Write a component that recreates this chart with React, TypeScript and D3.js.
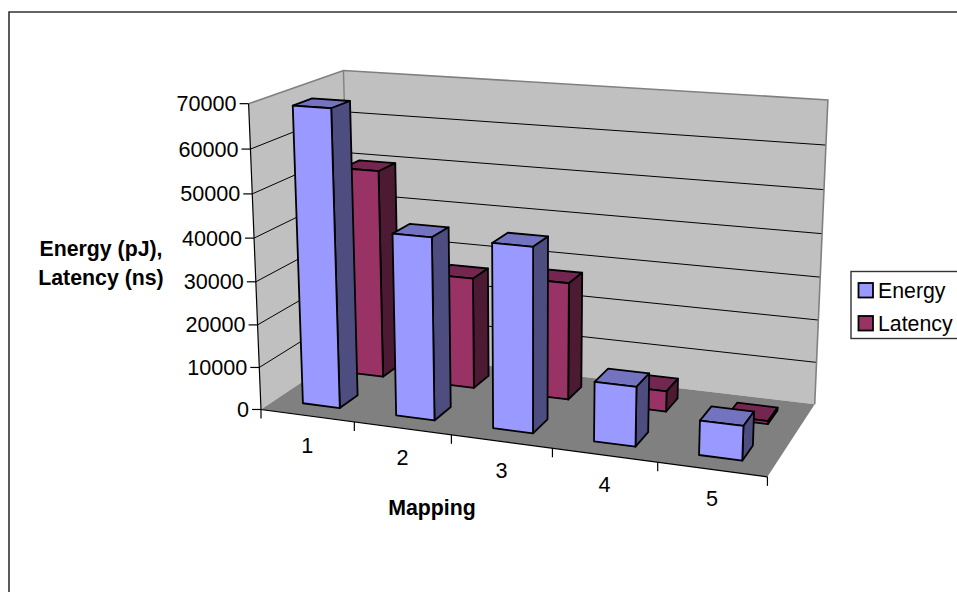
import * as d3 from "d3";

// Chart data
const categories = ["1", "2", "3", "4", "5"];
const seriesNames = ["Energy", "Latency"];
const energyValues = [68800, 42000, 42000, 13500, 7700];
const latencyValues = [50000, 26500, 27700, 4800, 700];
const valueTicks = [0, 10000, 20000, 30000, 40000, 50000, 60000, 70000];
const valueMax = 70000;
const yTitleLines = ["Energy (pJ),", "Latency (ns)"];
const xTitle = "Mapping";

// Box corners as (across, up, depth) -> screen position, used to fit the 3D camera.
const cameraAnchors: [number, number, number, number, number][] = [
  [0, 0, 0, 261, 410],
  [1, 0, 0, 767, 477],
  [1, 0, 1, 815, 404],
  [0, 0, 1, 351, 349],
  [0, 1, 0, 249, 103],
  [0, 1, 1, 343, 71],
  [1, 1, 1, 828, 100],
];

const FONT = '"Liberation Sans", Arial, sans-serif';
const COLORS: Record<string, { front: string; side: string; top: string }> = {
  Energy: { front: "#9999FF", side: "#4D4D80", top: "#7373BF" },
  Latency: { front: "#993366", side: "#4D1A33", top: "#732650" },
};

// Least-squares fit of a 3x4 projective camera to the anchors.
function fitCamera(anchors: typeof cameraAnchors): number[] {
  const rows: number[][] = [];
  const rhs: number[] = [];
  for (const [u, v, w, sx, sy] of anchors) {
    const x = sx / 1000;
    const y = sy / 1000;
    rows.push([u, v, w, 1, 0, 0, 0, 0, -x * u, -x * v, -x * w]);
    rhs.push(x);
    rows.push([0, 0, 0, 0, u, v, w, 1, -y * u, -y * v, -y * w]);
    rhs.push(y);
  }
  const n = 11;
  const A = d3.range(n).map((i) =>
    d3.range(n + 1).map((j) =>
      j < n ? d3.sum(rows, (r) => r[i] * r[j]) : d3.sum(rows, (r, k) => r[i] * rhs[k])
    )
  );
  for (let c = 0; c < n; c++) {
    let pivot = c;
    for (let r = c + 1; r < n; r++) if (Math.abs(A[r][c]) > Math.abs(A[pivot][c])) pivot = r;
    [A[c], A[pivot]] = [A[pivot], A[c]];
    for (let r = 0; r < n; r++) {
      if (r === c) continue;
      const f = A[r][c] / A[c][c];
      for (let k = c; k <= n; k++) A[r][k] -= f * A[c][k];
    }
  }
  return A.map((row, i) => row[n] / row[i]);
}

const cam = fitCamera(cameraAnchors);

function project(u: number, v: number, w: number): [number, number] {
  const d = cam[8] * u + cam[9] * v + cam[10] * w + 1;
  return [
    (1000 * (cam[0] * u + cam[1] * v + cam[2] * w + cam[3])) / d,
    (1000 * (cam[4] * u + cam[5] * v + cam[6] * w + cam[7])) / d,
  ];
}

// Excel-style 150% gap on both the category and the series axes.
const uBand = d3.scaleBand<string>().domain(categories).range([0, 1]).paddingInner(0.6).paddingOuter(0.3);
const wBand = d3.scaleBand<string>().domain(seriesNames).range([0, 1]).paddingInner(0.6).paddingOuter(0.3);
const vScale = d3.scaleLinear().domain([0, valueMax]).range([0, 1]);

const poly = (pts: [number, number][]) => d3.line()(pts)! + "Z";

function Bar({ category, series, value }: { category: string; series: string; value: number }) {
  const u0 = uBand(category)!;
  const u1 = u0 + uBand.bandwidth();
  const w0 = wBand(series)!;
  const w1 = w0 + wBand.bandwidth();
  const h = vScale(value);
  const c = COLORS[series];
  const common = { stroke: "#000", strokeWidth: 1.8, strokeLinejoin: "round" as const };
  return (
    <g>
      <path d={poly([project(u0, h, w0), project(u1, h, w0), project(u1, h, w1), project(u0, h, w1)])} fill={c.top} {...common} />
      <path d={poly([project(u1, 0, w0), project(u1, 0, w1), project(u1, h, w1), project(u1, h, w0)])} fill={c.side} {...common} />
      <path d={poly([project(u0, 0, w0), project(u1, 0, w0), project(u1, h, w0), project(u0, h, w0)])} fill={c.front} {...common} />
    </g>
  );
}

export default function App() {
  const top = vScale(valueMax);
  const valuesOf: Record<string, number[]> = { Energy: energyValues, Latency: latencyValues };
  const uEdges = d3.range(categories.length + 1).map((i) => i / categories.length);

  return (
    <svg
      width={957}
      height={592}
      viewBox="0 0 957 592"
      style={{ position: "absolute", left: 0, top: 0, display: "block", background: "#fff" }}
      fontFamily={FONT}
    >
      {/* Chart area border; the right and bottom edges fall outside the frame */}
      <path d="M9,592V12H957" fill="none" stroke="#333" strokeWidth={1.6} />

      {/* Walls */}
      <path d={poly([project(0, 0, 0), project(0, top, 0), project(0, top, 1), project(0, 0, 1)])} fill="#C0C0C0" />
      <path d={poly([project(0, 0, 1), project(0, top, 1), project(1, top, 1), project(1, 0, 1)])} fill="#C0C0C0" />

      {/* Gridlines wrap around both walls */}
      {valueTicks.slice(1, -1).map((t) => {
        const v = vScale(t);
        return (
          <path
            key={t}
            d={d3.line()([project(0, v, 0), project(0, v, 1), project(1, v, 1)])!}
            fill="none"
            stroke="#000"
            strokeWidth={1}
          />
        );
      })}
      <path
        d={d3.line()([project(0, top, 0), project(0, top, 1), project(1, top, 1), project(1, 0, 1)])!}
        fill="none"
        stroke="#808080"
        strokeWidth={1.6}
      />
      <path d={d3.line()([project(0, top, 1), project(0, 0, 1)])!} fill="none" stroke="#808080" strokeWidth={1.4} />

      {/* Floor */}
      <path d={poly([project(0, 0, 0), project(1, 0, 0), project(1, 0, 1), project(0, 0, 1)])} fill="#808080" />

      {/* Columns, back row first */}
      {[...seriesNames].reverse().map((s) =>
        categories.map((c, i) => <Bar key={s + c} category={c} series={s} value={valuesOf[s][i]} />)
      )}

      {/* Value axis */}
      <path d={d3.line()([project(0, top, 0), project(0, 0, 0), project(1, 0, 0)])!} fill="none" stroke="#000" strokeWidth={1.2} />
      {valueTicks.map((t) => {
        const [x, y] = project(0, vScale(t), 0);
        return (
          <g key={t}>
            <line x1={x - 9} x2={x} y1={y} y2={y} stroke="#000" strokeWidth={1.2} />
            <text x={x - 12} y={y + 7.5} textAnchor="end" fontSize={21.6} fill="#000">
              {t}
            </text>
          </g>
        );
      })}

      {/* Category axis */}
      {uEdges.map((u) => {
        const [x, y] = project(u, 0, 0);
        return <line key={u} x1={x} x2={x} y1={y} y2={y + 9} stroke="#000" strokeWidth={1.2} />;
      })}
      {categories.map((c) => {
        const [x, y] = project(uBand(c)! + uBand.bandwidth() / 2, 0, 0);
        return (
          <text key={c} x={x} y={y + 37} textAnchor="middle" fontSize={21.6} fill="#000">
            {c}
          </text>
        );
      })}

      {/* Axis titles */}
      {yTitleLines.map((line, i) => (
        <text key={line} x={101} y={256 + i * 29} textAnchor="middle" fontSize={21.3} fontWeight="bold" fill="#000">
          {line}
        </text>
      ))}
      <text x={432} y={515} textAnchor="middle" fontSize={21.3} fontWeight="bold" fill="#000">
        {xTitle}
      </text>

      {/* Legend */}
      <rect x={851} y={271.5} width={120} height={67} fill="#fff" stroke="#333" strokeWidth={1.4} />
      {seriesNames.map((s, i) => (
        <g key={s}>
          <rect x={858.5} y={283 + i * 33} width={14.5} height={14.5} fill={COLORS[s].front} stroke="#000" strokeWidth={1.8} />
          <text x={878} y={298 + i * 33} fontSize={21.3} fill="#000">
            {s}
          </text>
        </g>
      ))}
    </svg>
  );
}
